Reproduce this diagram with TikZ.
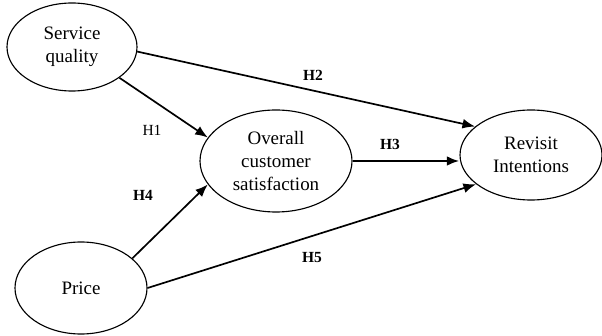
\documentclass[tikz,border=0pt]{standalone}
\usepackage{fontspec}
\setmainfont{Liberation Serif}
\usetikzlibrary{arrows.meta,positioning}
\usetikzlibrary{shapes.geometric}

\begin{document}
\begin{tikzpicture}[
  font=\fontsize{13.5}{16.5}\selectfont,
  construct/.style={draw,ellipse,line width=0.8pt,inner sep=0pt,align=center},
  path/.style={-{Latex[length=9pt,width=7pt]},line width=1.2pt},
  hyp/.style={font=\fontsize{11}{13}\selectfont\bfseries}
]

\useasboundingbox (0,0) rectangle (15.05,8.375);

% ========================
% CONSTRUCTS
% ========================

\node[construct,minimum width=3.25cm,minimum height=2.2cm] (sq) at (1.8,7.2) {Service\\quality};
\node[construct,minimum width=3.8cm,minimum height=2.55cm] (ocs) at (6.9,4.35) {Overall\\customer\\satisfaction};
\node[construct,minimum width=3.55cm,minimum height=2.25cm] (ri) at (13.275,4.5) {Revisit\\Intentions};
\node[construct,minimum width=3.3cm,minimum height=2.3cm] (price) at (2.025,1.175) {Price};

% ========================
% PATHS
% ========================

\draw[path] (sq.-4) -- (ri.153);
\draw[path] (sq.-33) -- (ocs.161);
\draw[path,line width=2pt] (ocs.east) -- (ocs.east -| ri.west);
\draw[path] (price.30) -- (ocs.199);
\draw[path] (price.0) -- (ri.208);

% hypothesis labels
\node[hyp,font=\fontsize{11}{13}\selectfont] (h1) at (3.8,5.125) {H1};
\node[hyp] (h2) at (7.825,6.5) {H2};
\node[hyp] (h3) at (9.75,4.775) {H3};
\node[hyp] (h4) at (3.575,3.5) {H4};
\node[hyp] (h5) at (7.8,1.925) {H5};

\end{tikzpicture}
\end{document}
